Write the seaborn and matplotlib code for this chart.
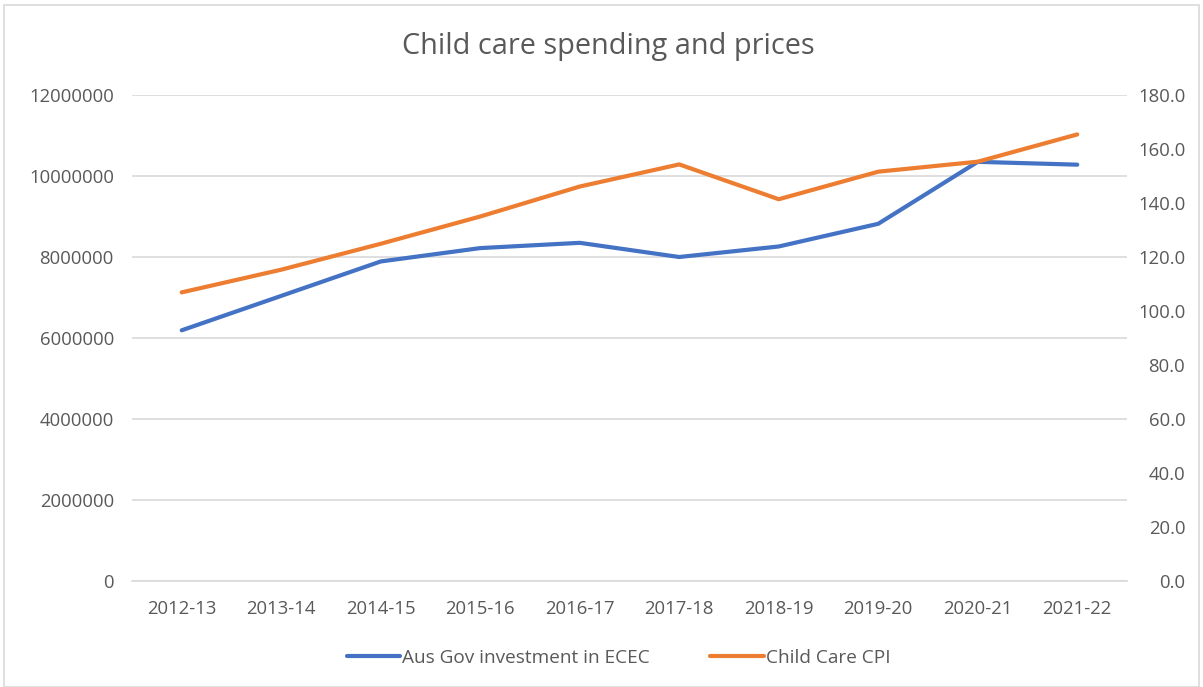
import pandas as pd
import seaborn as sns
import matplotlib.pyplot as plt
from matplotlib.patches import Rectangle

years = ["2012-13", "2013-14", "2014-15", "2015-16", "2016-17",
         "2017-18", "2018-19", "2019-20", "2020-21", "2021-22"]
investment = [6190000, 7040000, 7890000, 8220000, 8350000,
              8000000, 8260000, 8820000, 10350000, 10280000]
cpi = [106.9, 115.3, 124.9, 135.0, 146.1, 154.3, 141.4, 151.6, 155.3, 165.4]

df = pd.DataFrame({"year": years, "investment": investment, "cpi": cpi})

sns.set_style("white")
plt.rcParams["font.family"] = ["Open Sans", "DejaVu Sans"]

blue = "#4472C4"
orange = "#ED7D31"
grey = "#595959"

fig = plt.figure(figsize=(12.03, 6.87), dpi=100)
ax = fig.add_axes([0.1097, 0.1543, 0.8271, 0.7074])
ax2 = ax.twinx()

sns.lineplot(data=df, x="year", y="investment", ax=ax, color=blue, lw=3,
             label="Aus Gov investment in ECEC", legend=False, sort=False)
sns.lineplot(data=df, x="year", y="cpi", ax=ax2, color=orange, lw=3,
             label="Child Care CPI", legend=False, sort=False)

ax.set_xlim(-0.5, 9.5)
ax.set_ylim(0, 12000000)
ax.set_yticks(range(0, 12000001, 2000000))
ax.set_yticklabels([f"{v}" for v in range(0, 12000001, 2000000)])
ax2.set_ylim(0, 180)
ax2.set_yticks(range(0, 181, 20))
ax2.set_yticklabels([f"{v:.1f}" for v in range(0, 181, 20)], ha="right")

ax.grid(axis="y", color="#d9d9d9", lw=1.2)
ax.set_axisbelow(True)
for a in (ax, ax2):
    for s in a.spines.values():
        s.set_visible(False)
    a.set_xlabel("")
    a.set_ylabel("")
ax.spines["bottom"].set_visible(True)
ax.spines["bottom"].set_color("#d9d9d9")
ax.spines["bottom"].set_linewidth(1.2)

ax.tick_params(axis="y", length=0, pad=13, labelsize=13.3, labelcolor=grey)
ax.tick_params(axis="x", length=0, pad=14, labelsize=13.3, labelcolor=grey)
ax2.tick_params(axis="y", length=0, pad=42, labelsize=13.3, labelcolor=grey)

fig.text(0.506, 0.933, "Child care spending and prices", ha="center",
         va="center", fontsize=20.8, color=grey)

h1, l1 = ax.get_legend_handles_labels()
h2, l2 = ax2.get_legend_handles_labels()
fig.legend(h1 + h2, l1 + l2, loc="center", bbox_to_anchor=(0.514, 0.042),
           ncol=2, frameon=False, fontsize=13.7, labelcolor=grey,
           handlelength=2.8, handletextpad=0.1, columnspacing=3.2)

fig.patches.append(Rectangle((0.003, 0.0), 0.994, 0.992, transform=fig.transFigure,
                             fill=False, edgecolor="#d9d9d9", lw=1.2))

fig.savefig("out.png", dpi=100)
